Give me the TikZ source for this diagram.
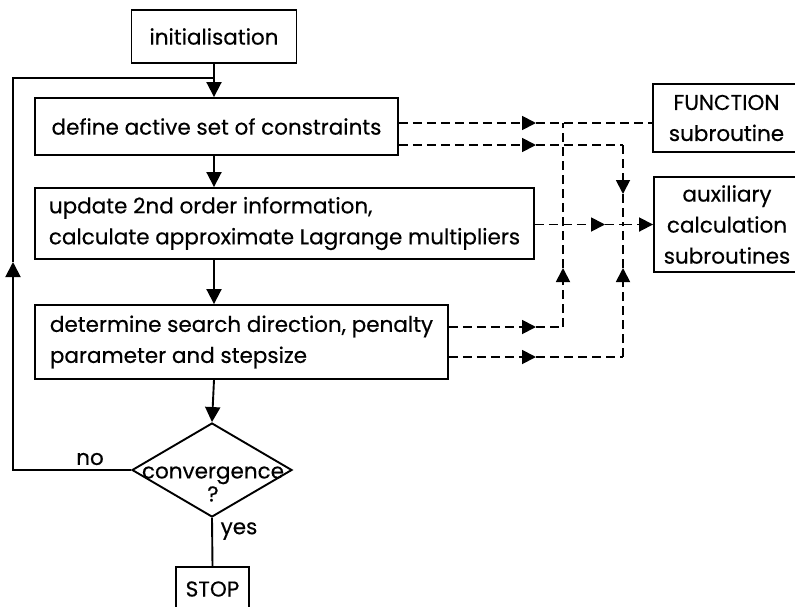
\documentclass[tikz,border=0pt]{standalone}
\usepackage{fontspec}
\setmainfont{Poppins}[FakeBold=0.4]
\usetikzlibrary{arrows.meta,shapes.geometric,calc}

\tikzset{
  txt/.style={font=\fontsize{21.5}{31}\selectfont},
  procbox/.style={draw, line width=1.9pt, txt, inner sep=0pt, inner xsep=6pt},
  flow/.style={line width=1.9pt},
  flowarrow/.style={line width=1.9pt, -{Triangle[length=15pt,width=15pt]}},
  datalink/.style={line width=1.8pt, dash pattern=on 9pt off 5pt},
  dataarrow/.style={datalink, -{Triangle[length=14pt,width=14pt]}},
}

\begin{document}
\begin{tikzpicture}[x=1pt,y=-1pt]
\useasboundingbox (0,0) rectangle (795,606);
\clip (0,0) rectangle (795,606);

% main column of the algorithm
\node[procbox, minimum width=165pt, minimum height=53pt] (init) at (214,36.5) {initialisation};
\node[procbox, minimum width=363pt, minimum height=57pt] (def) at (216.5,126.5) {define active set of constraints};
\node[procbox, align=left, minimum width=499pt, minimum height=71pt] (upd) at (284.5,223.5)
  {update 2nd order information,\\calculate approximate Lagrange multipliers};
\node[procbox, align=left, minimum width=413pt, minimum height=74pt] (det) at (241.5,342)
  {determine search direction, penalty\\parameter and stepsize};
\node[diamond, draw, line width=1.9pt, minimum width=160pt, minimum height=94pt, inner sep=0pt] (conv) at (212,470) {};
\node[txt, align=center, inner sep=0pt] (convtxt) at (213,484) {convergence\\[-8pt]?};
\node[procbox, minimum width=73pt, minimum height=44pt, inner xsep=4pt] (stop) at (212.5,589) {STOP};

% subroutine boxes on the right
\node[procbox, align=center, minimum width=147pt, minimum height=68pt, inner xsep=2pt] (func) at (726.5,118) {FUNCTION\\subroutine};
\node[procbox, align=center, minimum width=146pt, minimum height=95pt, inner xsep=2pt] (aux) at (727,224.5) {auxiliary\\calculation\\subroutines};

% labels of the decision
\node[txt, inner sep=0pt] (nolab) at (90,459) {no};
\node[txt, inner sep=0pt] (yeslab) at (239,531) {yes};

% solid flow
\coordinate (join) at ($(init.south)!0.43!(init.south |- def.north)$);
\draw[flowarrow] (init.south) -- (init.south |- def.north);
\draw[flowarrow] (def.south -| init.south) -- (init.south |- upd.north);
\draw[flowarrow] (upd.south -| init.south) -- (init.south |- det.north);
\draw[flowarrow] (det.south -| init.south) -- (conv.north);
\draw[flow] (conv.south) -- (stop.north);

% loop back when not converged
\coordinate (loopbot) at (13,470);
\coordinate (looptip) at (13,262);
\draw[flowarrow] (conv.west) -- (loopbot) -- (looptip);
\draw[flow] (looptip) |- (join);

% data links (dashed)
\coordinate (colA) at (563,0);
\coordinate (colB) at (623,0);
\coordinate (tipX) at (536,0);

% define -> FUNCTION
\coordinate (d1) at (def.east |- 0,123);
\draw[dataarrow] (d1) -- (tipX |- d1);
\draw[datalink] (tipX |- d1) -- (func.west |- d1);
% define -> auxiliary
\coordinate (d2) at (def.east |- 0,145);
\draw[dataarrow] (d2) -- (tipX |- d2);
\draw[datalink] (tipX |- d2) -- (colB |- d2);
\draw[dataarrow] (colB |- d2) -- (623,194);
\draw[datalink] (623,194) -- (colB |- aux.west);
% update -> auxiliary
\coordinate (u1) at (upd.east |- aux.west);
\draw[dataarrow] (u1) -- (605,224.5);
\draw[datalink] (605,224.5) -- (colB |- aux.west);
\draw[dataarrow] (colB |- aux.west) -- (aux.west);
% determine -> FUNCTION
\coordinate (s1) at (det.east |- 0,327);
\draw[dataarrow] (s1) -- (tipX |- s1);
\draw[datalink] (tipX |- s1) -- (colA |- s1);
\draw[dataarrow] (colA |- s1) -- (563,268);
\draw[datalink] (563,268) -- (colA |- d1);
% determine -> auxiliary
\coordinate (s2) at (det.east |- 0,357);
\draw[dataarrow] (s2) -- (tipX |- s2);
\draw[datalink] (tipX |- s2) -- (colB |- s2);
\draw[dataarrow] (colB |- s2) -- (623,268);
\draw[datalink] (623,268) -- (colB |- aux.west);
\end{tikzpicture}
\end{document}
